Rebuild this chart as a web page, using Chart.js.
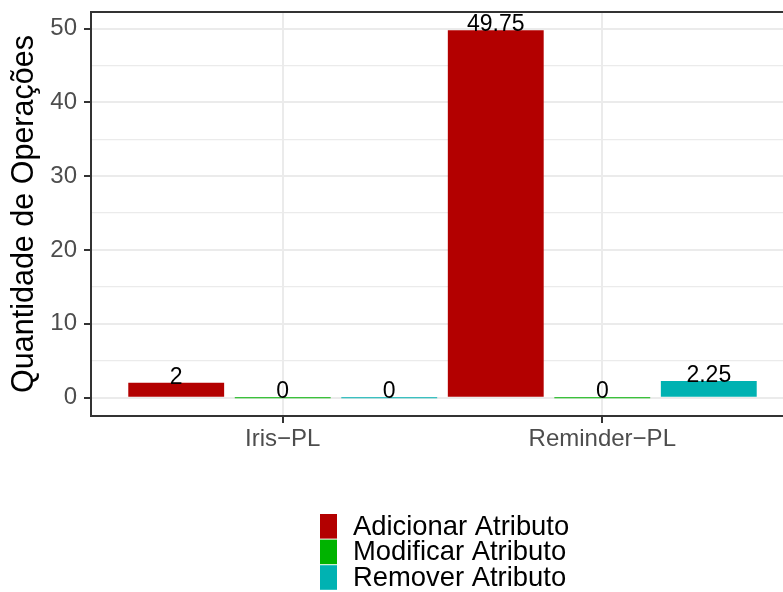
<!DOCTYPE html>
<html>
<head>
<meta charset="utf-8">
<script src="https://cdn.jsdelivr.net/npm/chart.js@4.4.1/dist/chart.umd.min.js"></script>
<style>
  html, body { margin: 0; padding: 0; background: #fff; overflow: hidden; }
  canvas { display: block; }
</style>
</head>
<body>
<canvas id="opsChart" width="800" height="592"></canvas>
<script>
const categories = ['Iris\u2212PL', 'Reminder\u2212PL'];
const seriesNames = ['Adicionar Atributo', 'Modificar Atributo', 'Remover Atributo'];
const adicionarValues = [2, 49.75];
const modificarValues = [0, 0];
const removerValues = [0, 2.25];
const seriesColors = ['#B30000', '#00B300', '#00B2B2'];
const yTicks = [0, 5, 10, 15, 20, 25, 30, 35, 40, 45, 50];
const yMin = -2.4875;
const yMax = 52.2375;

const FONT = '"Liberation Sans", Arial, sans-serif';

// discrete axis with ggplot style 0.6 expansion on each side
class PaddedCategory extends Chart.CategoryScale {
    configure() {
        super.configure();
        this._startValue = this.min - 0.6;
        this._valueRange = this.max - this.min + 1.2;
    }
}
PaddedCategory.id = 'paddedCategory';
PaddedCategory.defaults = Chart.CategoryScale.defaults;
Chart.register(PaddedCategory);

const valueLabels = {
    id: 'valueLabels',
    afterDatasetsDraw(chart) {
        const ctx = chart.ctx;
        ctx.save();
        ctx.font = '23px ' + FONT;
        ctx.fillStyle = '#000';
        ctx.textAlign = 'center';
        ctx.textBaseline = 'alphabetic';
        chart.data.datasets.forEach((ds, i) => {
            chart.getDatasetMeta(i).data.forEach((el, j) => {
                const top = Math.min(el.y, el.base);
                ctx.fillText(String(ds.data[j]), el.x, top + 1);
            });
        });
        ctx.restore();
    }
};

const panelBorder = {
    id: 'panelBorder',
    afterDraw(chart) {
        const a = chart.chartArea;
        const ctx = chart.ctx;
        ctx.save();
        ctx.strokeStyle = '#333333';
        ctx.lineWidth = 2;
        ctx.strokeRect(a.left, a.top, a.right - a.left, a.bottom - a.top);
        ctx.restore();
    }
};

const keyLegend = {
    id: 'keyLegend',
    afterDraw(chart) {
        const ctx = chart.ctx;
        ctx.save();
        ctx.font = '27.4px ' + FONT;
        ctx.textBaseline = 'middle';
        ctx.textAlign = 'left';
        chart.data.datasets.forEach((ds, i) => {
            const y = 514 + i * 25.6;
            ctx.fillStyle = ds.backgroundColor;
            ctx.fillRect(320, y, 17, 24.6);
            ctx.fillStyle = '#000';
            ctx.fillText(ds.label, 353, y + 13);
        });
        ctx.restore();
    }
};

const ctx1 = document.getElementById('opsChart').getContext('2d');
new Chart(ctx1, {
    type: 'bar',
    data: {
        labels: categories,
        datasets: [
            { label: seriesNames[0], data: adicionarValues, backgroundColor: seriesColors[0] },
            { label: seriesNames[1], data: modificarValues, backgroundColor: seriesColors[1] },
            { label: seriesNames[2], data: removerValues, backgroundColor: seriesColors[2] }
        ]
    },
    options: {
        responsive: false,
        animation: false,
        layout: { padding: { top: 12, right: 6, bottom: 136, left: 0 } },
        datasets: {
            bar: { categoryPercentage: 1, barPercentage: 0.9, minBarLength: 1 }
        },
        plugins: {
            legend: { display: false },
            tooltip: { enabled: false }
        },
        scales: {
            x: {
                type: 'paddedCategory',
                offset: false,
                afterFit: s => { s.height = 40; s.paddingLeft = 0; s.paddingRight = 0; },
                grid: {
                    offset: false,
                    color: '#EBEBEB',
                    lineWidth: 2,
                    tickLength: 7,
                    tickColor: '#333333',
                    tickWidth: 2
                },
                border: { display: false },
                ticks: {
                    color: '#4D4D4D',
                    font: { family: FONT, size: 24 },
                    padding: 2,
                    maxRotation: 0
                }
            },
            y: {
                min: yMin,
                max: yMax,
                afterBuildTicks: s => { s.ticks = yTicks.map(v => ({ value: v })); },
                afterFit: s => { s.width = 91; s.paddingTop = 0; s.paddingBottom = 0; },
                grid: {
                    color: '#EBEBEB',
                    lineWidth: c => (c.tick && c.tick.value % 10 === 0 ? 2 : 1.2),
                    tickLength: 7,
                    tickColor: c => (c.tick && c.tick.value % 10 === 0 ? '#333333' : 'rgba(0,0,0,0)'),
                    tickWidth: 2
                },
                border: { display: false },
                ticks: {
                    color: '#4D4D4D',
                    font: { family: FONT, size: 24 },
                    padding: 7,
                    callback: v => (v % 10 === 0 ? String(v) : '')
                },
                title: {
                    display: true,
                    text: 'Quantidade de Operações',
                    color: '#000',
                    font: { family: FONT, size: 30.5 },
                    padding: { top: 6, bottom: 0 }
                }
            }
        }
    },
    plugins: [valueLabels, panelBorder, keyLegend]
});
</script>
</body>
</html>
